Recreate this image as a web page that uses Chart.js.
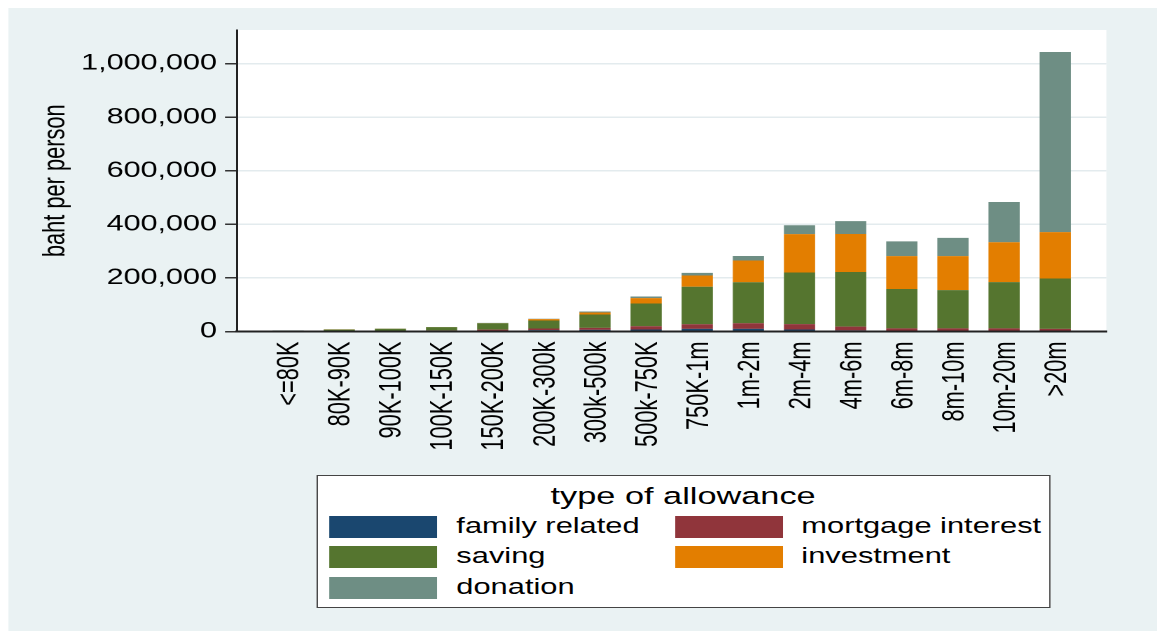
<!DOCTYPE html>
<html>
<head>
<meta charset="utf-8">
<title>Tax allowances by income band</title>
<script src="https://cdn.jsdelivr.net/npm/chart.js@4.4.1/dist/chart.umd.min.js"></script>
<style>
  html, body { margin: 0; padding: 0; background: #ffffff; overflow: hidden; width: 1157px; height: 631px; }
  #stage {
    position: absolute; left: 0; top: 0; width: 826px; height: 631px;
    transform: scaleX(1.40073); transform-origin: 0 0;
    font-family: 'Liberation Sans', Arial, sans-serif; color: #000;
  }
  #panel { position: absolute; left: 5.7px; top: 8px; right: -10px; bottom: -10px; background: #eaf2f3; }
  #chart { position: absolute; left: 0; top: 0; }
  #legend {
    position: absolute; left: 225.6px; top: 474.7px; width: 524.2px; height: 133.6px;
    box-sizing: border-box; background: #ffffff; border: 1.5px solid #444;
  }
  #legend .title {
    position: absolute; left: 0; right: 0; top: 8.3px; height: 24px; line-height: 24px;
    text-align: center; font-size: 24.5px;
  }
  #legend .swatch { position: absolute; width: 77px; height: 22px; }
  #legend .label { position: absolute; height: 22px; line-height: 22px; font-size: 22px; white-space: nowrap; }
</style>
</head>
<body>
<div id="stage">
  <div id="panel"></div>
  <canvas id="chart" width="826" height="631"></canvas>
  <div id="legend"><div class="title">type of allowance</div></div>
</div>
<script>
// Income bands (annual income, baht)
const incomeBands = [
  '<=80K', '80K-90K', '90K-100K', '100K-150K', '150K-200K', '200K-300k',
  '300k-500k', '500k-750K', '750K-1m', '1m-2m', '2m-4m', '4m-6m',
  '6m-8m', '8m-10m', '10m-20m', '>20m'
];

// Average allowance claimed, baht per person, by type
const familyRelated    = [500, 800, 1000, 2000, 3500, 5000, 6000, 7500, 10000, 10000, 7500, 4000, 2500, 2500, 2500, 1500];
const mortgageInterest = [200, 300, 500, 2000, 3500, 6000, 7500, 12000, 17000, 21000, 20000, 14000, 9000, 9000, 9000, 8500];
const saving           = [3000, 6500, 9000, 12500, 24000, 30000, 50000, 85000, 140000, 153000, 193000, 204000, 147000, 143000, 173000, 188000];
const investment       = [0, 200, 300, 300, 500, 5000, 7500, 20000, 42000, 81000, 143000, 142000, 123000, 127000, 149000, 173000];
const donation         = [300, 200, 200, 200, 500, 1500, 3500, 6000, 10000, 17000, 33500, 48000, 55000, 68000, 150000, 673000];

// Y axis ticks
const yTicks = [0, 200000, 400000, 600000, 800000, 1000000];

const series = [
  { label: 'family related',    values: familyRelated,    color: '#1a476f' },
  { label: 'mortgage interest', values: mortgageInterest, color: '#90353b' },
  { label: 'saving',            values: saving,           color: '#55752f' },
  { label: 'investment',        values: investment,       color: '#e37e00' },
  { label: 'donation',          values: donation,         color: '#6e8e84' }
];

// One empty slot at each end keeps a full band of space beside the outer bars
const slotLabels = [''].concat(incomeBands, ['']);
const pad = arr => [null].concat(arr, [null]);

Chart.defaults.font.family = "'Liberation Sans', Arial, sans-serif";
Chart.defaults.color = '#000';

const plotFill = {
  id: 'plotFill',
  beforeDraw(chart) {
    const { ctx, chartArea: a } = chart;
    ctx.save();
    ctx.fillStyle = '#ffffff';
    ctx.fillRect(a.left, a.top, a.right - a.left, a.bottom - a.top);
    ctx.restore();
  }
};

const chart = new Chart(document.getElementById('chart'), {
  type: 'bar',
  data: {
    labels: slotLabels,
    datasets: series.map(s => ({
      label: s.label,
      data: pad(s.values),
      backgroundColor: s.color,
      borderWidth: 0,
      barPercentage: 0.61,
      categoryPercentage: 1
    }))
  },
  plugins: [plotFill],
  options: {
    responsive: false,
    animation: false,
    devicePixelRatio: 2,
    layout: { padding: { left: 27, right: 18.9, top: 30, bottom: 0 } },
    plugins: { legend: { display: false }, tooltip: { enabled: false } },
    scales: {
      x: {
        stacked: true,
        offset: false,
        grid: { display: false, drawTicks: false },
        border: { display: true, color: '#222', width: 2, z: 1 },
        ticks: {
          autoSkip: false, minRotation: 90, maxRotation: 90,
          padding: 10, labelOffset: 1.5, color: '#000', font: { size: 21.8 }
        },
        afterFit(scale) { scale.height = 299.5; }
      },
      y: {
        stacked: true,
        min: yTicks[0],
        max: 1126000,
        afterBuildTicks(scale) { scale.ticks = yTicks.map(v => ({ value: v })); },
        ticks: {
          padding: 5.7, color: '#000', font: { size: 21.8 },
          callback: v => Number(v).toLocaleString('en-US')
        },
        grid: { color: '#e3ebee', lineWidth: 1.5, tickColor: '#333', tickWidth: 1.5, tickLength: 8.6 },
        border: { display: true, color: '#222', width: 1.5, z: 1 },
        title: { display: true, text: 'baht per person', color: '#000', font: { size: 21.8 }, padding: 0 },
        afterFit(scale) { scale.width = 142.2; }
      }
    }
  }
});

// Boxed legend in two columns, built from the chart's datasets
const legendBox = document.getElementById('legend');
const rowTops = [40.3, 70.3, 101.3];
const swatchLefts = [8.5, 255.5];
const labelLefts = [99.2, 345.5];
chart.data.datasets.forEach((ds, i) => {
  const row = Math.floor(i / 2), col = i % 2;
  const sw = document.createElement('div');
  sw.className = 'swatch';
  sw.style.left = swatchLefts[col] + 'px';
  sw.style.top = rowTops[row] + 'px';
  sw.style.background = ds.backgroundColor;
  legendBox.appendChild(sw);
  const tx = document.createElement('div');
  tx.className = 'label';
  tx.style.left = labelLefts[col] + 'px';
  tx.style.top = (rowTops[row] - 0.5) + 'px';
  tx.textContent = ds.label;
  legendBox.appendChild(tx);
});
</script>
</body>
</html>
